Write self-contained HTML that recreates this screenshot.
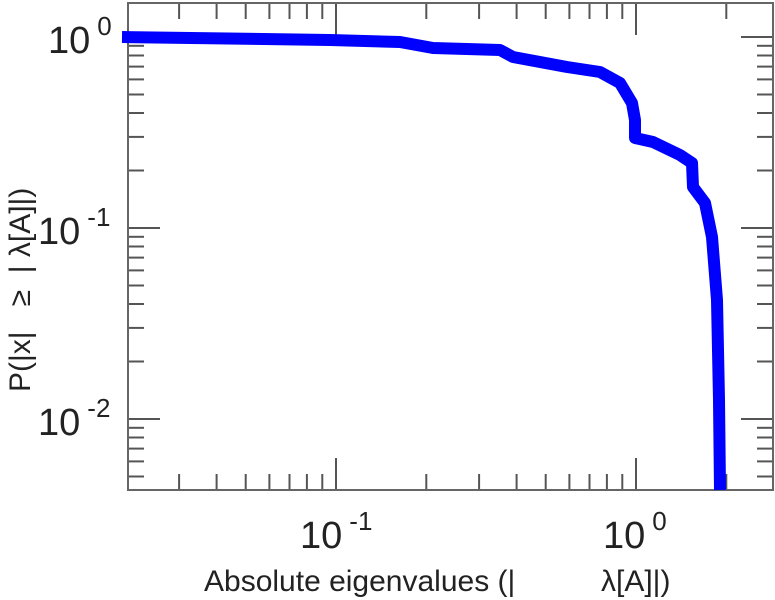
<!DOCTYPE html>
<html><head><meta charset="utf-8"><style>
body{margin:0;background:#fff;}
svg{display:block;font-family:"Liberation Sans",sans-serif;}
.lab{font-size:30px;fill:#222;}
</style></head><body>
<svg width="775" height="600" viewBox="0 0 775 600">
<g stroke="#555" stroke-width="2">
<line x1="179.1" y1="490" x2="179.1" y2="474"/><line x1="179.1" y1="3" x2="179.1" y2="19"/>
<line x1="216.6" y1="490" x2="216.6" y2="474"/><line x1="216.6" y1="3" x2="216.6" y2="19"/>
<line x1="245.7" y1="490" x2="245.7" y2="474"/><line x1="245.7" y1="3" x2="245.7" y2="19"/>
<line x1="269.4" y1="490" x2="269.4" y2="474"/><line x1="269.4" y1="3" x2="269.4" y2="19"/>
<line x1="289.5" y1="490" x2="289.5" y2="474"/><line x1="289.5" y1="3" x2="289.5" y2="19"/>
<line x1="306.9" y1="490" x2="306.9" y2="474"/><line x1="306.9" y1="3" x2="306.9" y2="19"/>
<line x1="322.3" y1="490" x2="322.3" y2="474"/><line x1="322.3" y1="3" x2="322.3" y2="19"/>
<line x1="336" y1="490" x2="336" y2="458"/><line x1="336" y1="3" x2="336" y2="35"/>
<line x1="426.3" y1="490" x2="426.3" y2="474"/><line x1="426.3" y1="3" x2="426.3" y2="19"/>
<line x1="479.1" y1="490" x2="479.1" y2="474"/><line x1="479.1" y1="3" x2="479.1" y2="19"/>
<line x1="516.6" y1="490" x2="516.6" y2="474"/><line x1="516.6" y1="3" x2="516.6" y2="19"/>
<line x1="545.7" y1="490" x2="545.7" y2="474"/><line x1="545.7" y1="3" x2="545.7" y2="19"/>
<line x1="569.4" y1="490" x2="569.4" y2="474"/><line x1="569.4" y1="3" x2="569.4" y2="19"/>
<line x1="589.5" y1="490" x2="589.5" y2="474"/><line x1="589.5" y1="3" x2="589.5" y2="19"/>
<line x1="606.9" y1="490" x2="606.9" y2="474"/><line x1="606.9" y1="3" x2="606.9" y2="19"/>
<line x1="622.3" y1="490" x2="622.3" y2="474"/><line x1="622.3" y1="3" x2="622.3" y2="19"/>
<line x1="636" y1="490" x2="636" y2="458"/><line x1="636" y1="3" x2="636" y2="35"/>
<line x1="726.3" y1="490" x2="726.3" y2="474"/><line x1="726.3" y1="3" x2="726.3" y2="19"/>
<line x1="128" y1="37" x2="160" y2="37"/><line x1="773" y1="37" x2="741" y2="37"/>
<line x1="128" y1="228" x2="160" y2="228"/><line x1="773" y1="228" x2="741" y2="228"/>
<line x1="128" y1="419" x2="160" y2="419"/><line x1="773" y1="419" x2="741" y2="419"/>
<g id="m">
<line x1="128" y1="45.8" x2="144" y2="45.8"/><line x1="128" y1="55.5" x2="144" y2="55.5"/>
<line x1="128" y1="66.6" x2="144" y2="66.6"/><line x1="128" y1="79.4" x2="144" y2="79.4"/>
<line x1="128" y1="94.5" x2="144" y2="94.5"/><line x1="128" y1="113" x2="144" y2="113"/>
<line x1="128" y1="136.9" x2="144" y2="136.9"/><line x1="128" y1="170.5" x2="144" y2="170.5"/>
<line x1="128" y1="236.8" x2="144" y2="236.8"/><line x1="128" y1="246.5" x2="144" y2="246.5"/>
<line x1="128" y1="257.6" x2="144" y2="257.6"/><line x1="128" y1="270.4" x2="144" y2="270.4"/>
<line x1="128" y1="285.5" x2="144" y2="285.5"/><line x1="128" y1="304" x2="144" y2="304"/>
<line x1="128" y1="327.9" x2="144" y2="327.9"/><line x1="128" y1="361.5" x2="144" y2="361.5"/>
<line x1="128" y1="427.8" x2="144" y2="427.8"/><line x1="128" y1="437.5" x2="144" y2="437.5"/>
<line x1="128" y1="448.6" x2="144" y2="448.6"/><line x1="128" y1="461.4" x2="144" y2="461.4"/>
<line x1="128" y1="476.5" x2="144" y2="476.5"/>
</g>
<use href="#m" transform="translate(901,0) scale(-1,1)"/>
</g>
<rect x="128" y="3" width="645" height="487" fill="none" stroke="#666" stroke-width="2"/>
<polyline fill="none" stroke="#0000ff" stroke-width="12" stroke-linejoin="round"
 points="122,37 330,40 400,42 433,48 500,50 513,57 567,67 600,72 620,83 632,103 635,120 635,138 653,142 680,155 692,163 693,187 705,203 712,237 717,300 719,400 720,490"/>
<g fill="#222" font-size="38">
<text x="48" y="53">10<tspan font-size="26" dy="-18" dx="7">0</tspan></text>
<text x="38" y="244">10<tspan font-size="26" dy="-18" dx="7">-1</tspan></text>
<text x="38" y="435">10<tspan font-size="26" dy="-18" dx="7">-2</tspan></text>
<text x="300" y="548">10<tspan font-size="26" dy="-18" dx="7">-1</tspan></text>
<text x="603" y="548">10<tspan font-size="26" dy="-18" dx="7">0</tspan></text>
</g>
<text class="lab" x="204" y="591">Absolute eigenvalues (|</text>
<text class="lab" x="601" y="591">λ[A]|)</text>
<text class="lab" transform="translate(30,392) rotate(-90)">P(|x|&#160;&#160;&#160;≥&#160;&#160;|&#160;λ[A]|)</text>
</svg>
</body></html>
